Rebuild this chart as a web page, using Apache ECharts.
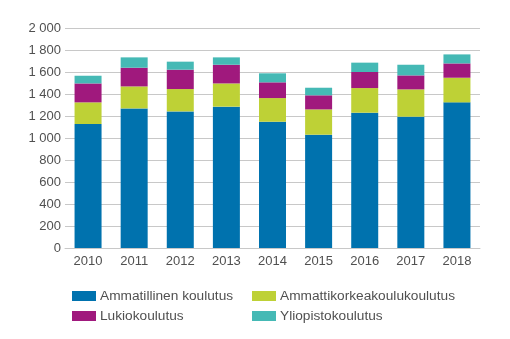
<!DOCTYPE html>
<html><head><meta charset="utf-8">
<script src="https://cdn.jsdelivr.net/npm/echarts@6/dist/echarts.min.js"></script>
<style>html,body{margin:0;padding:0;background:#fff}#c{width:510px;height:339px}</style>
</head><body><div id="c"></div>
<script>
var years = ['2010','2011','2012','2013','2014','2015','2016','2017','2018'];
var seriesNames = ['Ammatillinen koulutus','Ammattikorkeakoulukoulutus','Lukiokoulutus','Yliopistokoulutus'];
var ammatillinen = [1127,1269,1242,1285,1148,1030,1230,1194,1324];
var amk = [197,200,203,211,215,230,224,248,224];
var lukio = [172,170,176,170,143,128,146,127,130];
var yliopisto = [70,94,73,67,82,69,85,97,82];
var colors = ['#0072ae','#bed136','#a0197d','#45b9b5'];
var values = [ammatillinen, amk, lukio, yliopisto];
var font = 'Liberation Sans, Arial, sans-serif';
var txt = '#505050';
var chart = echarts.init(document.getElementById('c'));
chart.setOption({
  animation:false,
  grid:{left:65,right:30,top:28,bottom:91},
  legend:[
    {data:[seriesNames[0],seriesNames[2]],orient:'vertical',left:67,top:284,itemWidth:24,itemHeight:10,itemGap:6,
     textStyle:{fontFamily:font,fontSize:13.7,color:txt,padding:[0,0,0,-1]},icon:'rect'},
    {data:[seriesNames[1],seriesNames[3]],orient:'vertical',left:247,top:284,itemWidth:24,itemHeight:10,itemGap:6,
     textStyle:{fontFamily:font,fontSize:13.7,color:txt,padding:[0,0,0,-1]},icon:'rect'}
  ],
  xAxis:{type:'category',data:years,
    axisLine:{show:true,lineStyle:{color:'#c8c8c8'}},axisTick:{show:false},
    axisLabel:{fontFamily:font,fontSize:13,color:txt,margin:7}},
  yAxis:{type:'value',min:0,max:2000,interval:200,
    axisLine:{show:false},axisTick:{show:false},
    splitLine:{lineStyle:{color:'#c8c8c8'}},
    axisLabel:{fontFamily:font,fontSize:13,color:txt,margin:4,
      formatter:function(v){return v>=1000?String(v).replace(/(\d)(\d{3})$/,'$1 $2'):String(v);}}},
  series: seriesNames.map(function(n,i){
    return {name:n,type:'bar',stack:'s',data:values[i],barWidth:27,
      itemStyle:{color:colors[i]}};
  })
});
</script></body></html>
